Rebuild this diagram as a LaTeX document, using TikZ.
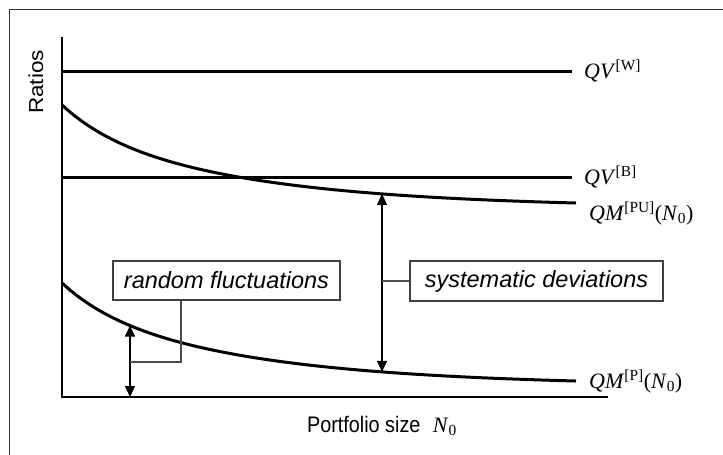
\documentclass[tikz,border=0pt]{standalone}
\usepackage{fontspec}
\setmainfont{Liberation Sans}
\newfontfamily\tms{Liberation Serif}
\usetikzlibrary{arrows.meta}

% decreasing ratio curve, t = distance from the vertical axis
\newcommand{\ratiocurve}[1]{208-25.3*exp(-0.0203*(#1))-77.7*exp(-0.00534*(#1))}

\begin{document}
\begin{tikzpicture}[x=1pt,y=-1pt,
  frameline/.style={draw=black!80,line width=1pt},
  axisline/.style={draw=black,line width=1.4pt},
  levelline/.style={draw=black,line width=3pt},
  curveline/.style={draw=black,line width=3pt},
  dblarrow/.style={draw=black,line width=1.2pt,{Triangle[length=11pt,width=10pt]}-{Triangle[length=11pt,width=10pt]}},
  pointer/.style={draw=black!70,line width=1.1pt},
  notebox/.style={draw=black!75,line width=1.1pt,fill=white,inner sep=0pt,
    font=\fontsize{23.5}{27}\selectfont\itshape,text=black},
  mathlabel/.style={inner sep=0pt,anchor=base west,
    font=\fontsize{22}{26}\selectfont\tms,text=black},
  axislabel/.style={inner sep=0pt,font=\fontsize{22.5}{26}\selectfont,text=black}]

\useasboundingbox (0,0) rectangle (723,455);

% outer frame
\draw[frameline] (9.5,460) -- (9.5,9) -- (730,9);

% axes
\coordinate (O) at (62,397);
\coordinate (ytop) at (62,37);
\coordinate (xend) at (608,397);
\draw[axisline] (ytop) -- (O) -- (xend);

% level lines
\coordinate (w0) at (62,71);
\coordinate (w1) at (572,71);
\coordinate (b0) at (62,177);
\coordinate (b1) at (572,177);
\draw[levelline] (w0) -- (w1);
\draw[levelline] (b0) -- (b1);

% decreasing curves
\draw[curveline] plot[domain=0:514,samples=120,smooth] ({62+\x},{\ratiocurve{\x}});
\draw[curveline] plot[domain=0:514,samples=120,smooth] ({62+\x},{178+\ratiocurve{\x}});

% curve labels
\node[mathlabel] (lw) at (584,78) {\textit{QV}\textsuperscript{[W]}};
\node[mathlabel] (lb) at (584,184) {\textit{QV}\textsuperscript{[B]}};
\node[mathlabel] (lpu) at (589,220) {\textit{QM}\textsuperscript{[PU]}(\textit{N}\textsubscript{0})};
\node[mathlabel] (lp) at (589,388) {\textit{QM}\textsuperscript{[P]}(\textit{N}\textsubscript{0})};

% axis labels
\node[axislabel,rotate=90] (ylab) at (36,82) {\scalebox{1}[0.9]{Ratios}};
\node[axislabel,anchor=base] (xlab) at (382,432) {\scalebox{0.88}[1]{Portfolio size}\ \ {\tms\fontsize{22}{26}\selectfont\textit{N}\textsubscript{0}}};

% systematic deviations
\coordinate (sdtop) at (382,{\ratiocurve{320}});
\coordinate (sdbot) at (382,{178+\ratiocurve{320}});
\draw[dblarrow] (sdbot) -- (sdtop);
\node[notebox,minimum width=253pt,minimum height=40pt] (sd) at (536.5,281) {systematic deviations};
\draw[pointer] (sd.west) -- (sd.west -| sdtop);

% random fluctuations
\coordinate (rftop) at (130,{178+\ratiocurve{68}});
\coordinate (rfbot) at (130,397);
\draw[dblarrow] (rfbot) -- (rftop);
\node[notebox,minimum width=227pt,minimum height=39pt] (rf) at (226.5,280.5) {random fluctuations};
\coordinate (rfturn) at (181,362);
\draw[pointer] (rf.south -| rfturn) -- (rfturn) -- (rfturn -| rftop);

\end{tikzpicture}
\end{document}
